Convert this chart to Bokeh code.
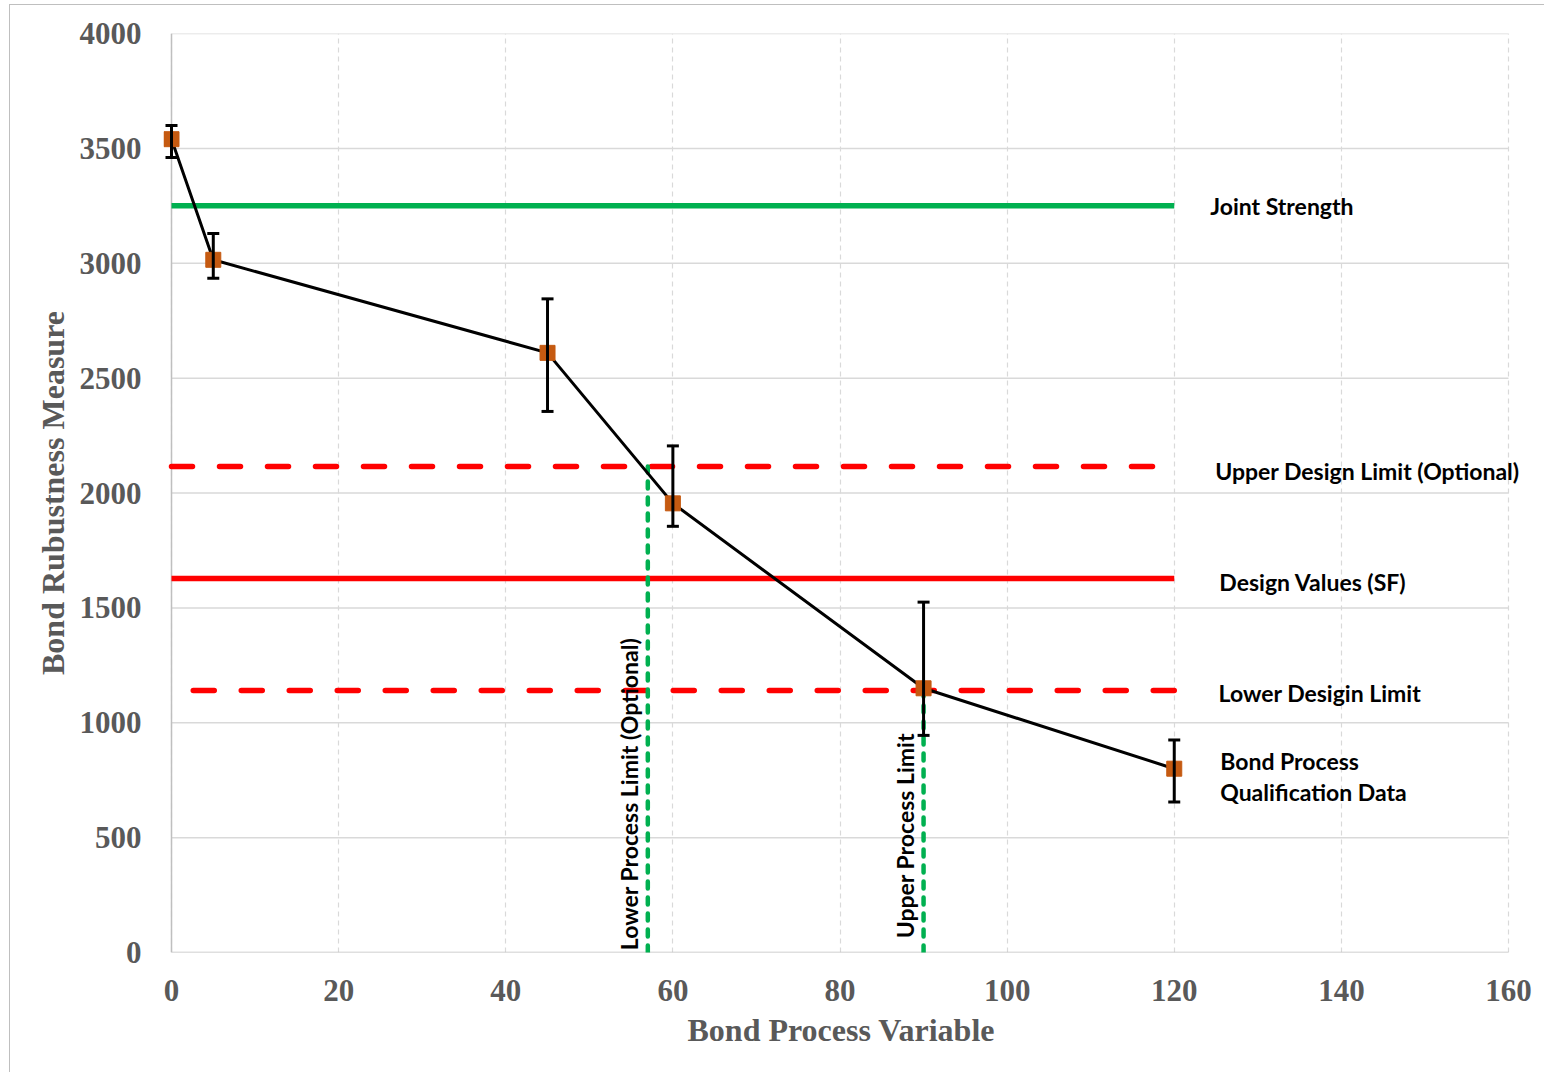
from math import pi

from bokeh.embed import file_html
from bokeh.models import (ColumnDataSource, FixedTicker, Label, Range1d, TeeHead,
                          Title, Whisker)
from bokeh.plotting import figure
from bokeh.resources import INLINE

# Bond process qualification data (mean with error range)
process_variable = [0, 5, 45, 60, 90, 120]
robustness = [3540, 3015, 2610, 1955, 1150, 800]
robustness_upper = [3600, 3130, 2845, 2205, 1525, 925]
robustness_lower = [3460, 2935, 2355, 1855, 945, 655]

# Reference levels
joint_strength = 3250
upper_design_limit = 2115
design_value = 1628
lower_design_limit = 1140
lower_process_limit = 57
upper_process_limit = 90
level_end = 120

x_ticks = [0, 20, 40, 60, 80, 100, 120, 140, 160]
y_ticks = [0, 500, 1000, 1500, 2000, 2500, 3000, 3500, 4000]
x_min, x_max = 0, 160
y_min, y_max = 0, 4000

level_labels = ["Joint Strength", "Upper Design Limit (Optional)", "Design Values (SF)",
                "Lower Desigin Limit", "Bond Process", "Qualification Data"]
limit_labels = ["Lower  Process Limit (Optional)", "Upper  Process Limit"]

GRAY = "#595959"
GRID = "#d9d9d9"
AXIS = "#bfbfbf"
GREEN = "#00b050"
RED = "#ff0000"
ORANGE = "#c55a11"
SERIF = "Liberation Serif"
SANS = "Lato"

# The frame is a little wider than the 0-160 axis so that markers and
# side labels near the edges are not cut off.
px_per_unit = 1337 / (x_max - x_min)
pad_left = 8 / px_per_unit
pad_right = 22 / px_per_unit

p = figure(
    width=1535, height=1068,
    x_range=Range1d(x_min - pad_left, x_max + pad_right),
    y_range=Range1d(y_min, y_max),
    output_backend="svg", toolbar_location=None,
    min_border_left=153, min_border_right=15,
    min_border_top=28, min_border_bottom=121,
    background_fill_color="white", border_fill_color="white",
)
p.styles = {
    "margin-left": "9px", "margin-top": "4px",
    "border-left": "1px solid #bfbfbf", "border-top": "1px solid #bfbfbf",
}
p.outline_line_color = None

for ax in (p.xaxis[0], p.yaxis[0]):
    ax.axis_line_color = None
    ax.major_tick_line_color = None
    ax.minor_tick_line_color = None
    ax.major_label_text_font = SERIF
    ax.major_label_text_font_style = "bold"
    ax.major_label_text_font_size = "31px"
    ax.major_label_text_color = GRAY
    ax.axis_label_text_font = SERIF
    ax.axis_label_text_font_style = "bold"
    ax.axis_label_text_font_size = "32px"
    ax.axis_label_text_color = GRAY

p.xaxis.ticker = FixedTicker(ticks=x_ticks)
p.yaxis.ticker = FixedTicker(ticks=y_ticks)
p.xaxis.major_label_standoff = 21
p.yaxis.major_label_standoff = 16
p.yaxis.axis_label = "Bond Rubustness Measure"
p.yaxis.axis_label_standoff = 6

# x-axis title placed under the middle of the 0-160 span
x_title = Title(
    text="Bond Process Variable", align="left", offset=524,
    text_font=SERIF, text_font_style="bold", text_font_size="32px",
    text_color=GRAY, standoff=12,
)
p.add_layout(x_title, "below")

# Vertical grid (dashed) from the ticker; horizontal grid drawn over 0-160 only
p.xgrid.grid_line_color = GRID
p.xgrid.grid_line_dash = "5 4"
p.xgrid.grid_line_width = 1.2
p.ygrid.grid_line_color = None
grid_y = y_ticks[1:]
p.segment(x0=[x_min] * len(grid_y), x1=[x_max] * len(grid_y), y0=grid_y, y1=grid_y,
          line_color=GRID, line_width=1.5)

# Axis lines along x = 0 and y = 0
p.segment(x0=[x_min, x_min], x1=[x_min, x_max], y0=[y_min, y_min], y1=[y_max, y_min],
          line_color=AXIS, line_width=1.5)

# Horizontal reference levels
p.line([0, level_end], [joint_strength] * 2, line_color=GREEN, line_width=5.5)
p.line([0, level_end], [design_value] * 2, line_color=RED, line_width=5.5)
p.line([0, level_end], [upper_design_limit] * 2, line_color=RED, line_width=5.5,
       line_dash="21 27", line_cap="round")
p.line([level_end, 0], [lower_design_limit] * 2, line_color=RED, line_width=5.5,
       line_dash="21 27", line_cap="round")

# Process limits
p.line([lower_process_limit] * 2, [0, upper_design_limit], line_color=GREEN,
       line_width=4.5, line_dash="7 9", line_cap="round")
p.line([upper_process_limit] * 2, [0, lower_design_limit], line_color=GREEN,
       line_width=4.5, line_dash="7 9", line_cap="round")

# Qualification data
src = ColumnDataSource(dict(
    x=process_variable, y=robustness,
    upper=robustness_upper, lower=robustness_lower,
))
p.line("x", "y", source=src, line_color="black", line_width=3)
whisker = Whisker(
    source=src, base="x", upper="upper", lower="lower",
    line_color="black", line_width=3, level="glyph",
    upper_head=TeeHead(size=12, line_width=3, line_color="black"),
    lower_head=TeeHead(size=12, line_width=3, line_color="black"),
)
p.add_layout(whisker)
p.scatter("x", "y", source=src, marker="square", size=15,
          fill_color=ORANGE, line_color=ORANGE)

# Labels for the levels
label_x = [124.3, 124.9, 125.4, 125.3, 125.5, 125.5]
label_y = [joint_strength, upper_design_limit - 20, design_value - 15,
           lower_design_limit - 10, 835, 700]
for lx, ly, txt in zip(label_x, label_y, level_labels):
    p.add_layout(Label(
        x=lx, y=ly, text=txt, text_font=SANS, text_font_style="bold",
        text_font_size="23px", text_color="black",
        text_align="left", text_baseline="middle",
    ))

for lx, ly, txt in zip([54.7, 87.8], [10, 62], limit_labels):
    p.add_layout(Label(
        x=lx, y=ly, text=txt, angle=pi / 2, text_font=SANS,
        text_font_style="bold", text_font_size="23px", text_color="black",
        text_align="left", text_baseline="middle",
    ))

open("out.html", "w").write(file_html(p, INLINE))
